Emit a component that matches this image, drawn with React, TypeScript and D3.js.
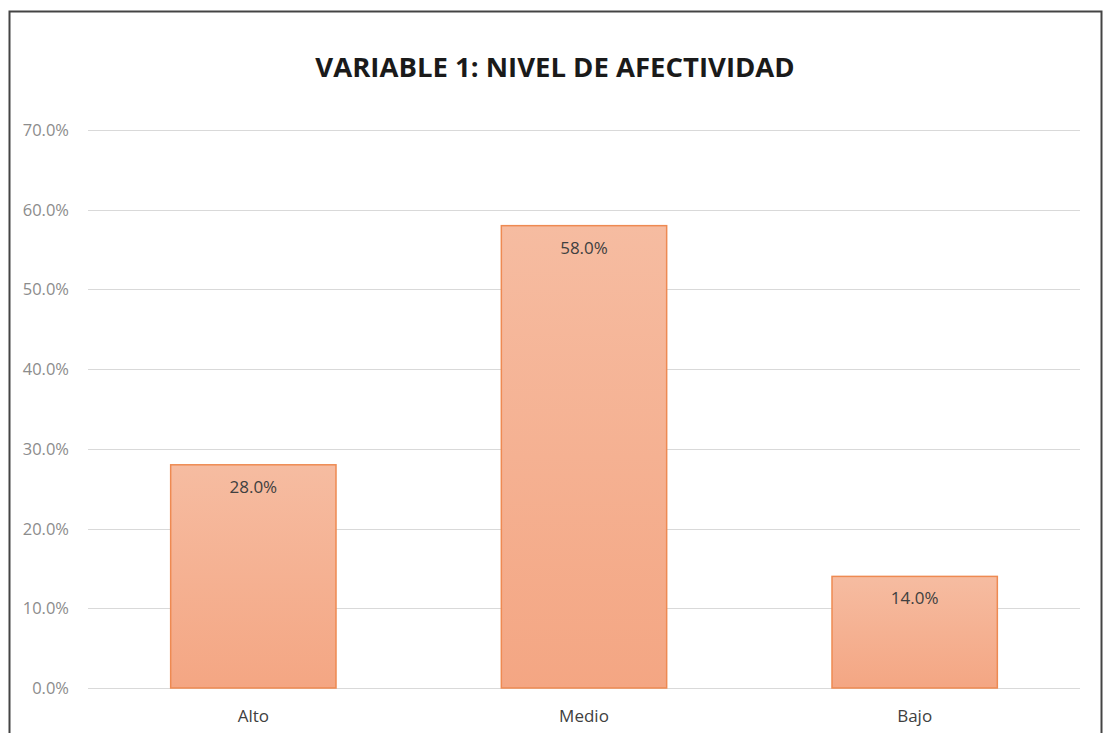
import React, { useEffect, useRef } from "react";
import * as d3 from "d3";

const categories = ["Alto", "Medio", "Bajo"];
const values = [0.28, 0.58, 0.14];
const yTicks = [0, 0.1, 0.2, 0.3, 0.4, 0.5, 0.6, 0.7];
const title = "VARIABLE 1: NIVEL DE AFECTIVIDAD";

const W = 1105;
const H = 733;

export default function App() {
  const svgRef = useRef<SVGSVGElement>(null);

  useEffect(() => {
    const svg = d3.select(svgRef.current);
    svg.selectAll("*").remove();
    const margin = { left: 88, right: 25, top: 130, bottom: 45 };
    const font = "'Open Sans', 'Liberation Sans', sans-serif";

    const defs = svg.append("defs");
    const grad = defs
      .append("linearGradient")
      .attr("id", "barGrad")
      .attr("x1", 0)
      .attr("y1", 0)
      .attr("x2", 0)
      .attr("y2", 1);
    grad.append("stop").attr("offset", "0%").attr("stop-color", "#f6bca1");
    grad.append("stop").attr("offset", "100%").attr("stop-color", "#f4a683");

    svg.append("rect").attr("width", W).attr("height", H).attr("fill", "#fff");
    // chart border (bottom edge cut off)
    svg
      .append("path")
      .attr("d", `M9.5,${H} V11.5 H1101.5 V${H}`)
      .attr("fill", "none")
      .attr("stroke", "#444")
      .attr("stroke-width", 2);

    const x = d3
      .scaleBand()
      .domain(categories)
      .range([margin.left, W - margin.right])
      .paddingInner(0.5)
      .paddingOuter(0.25);
    const y = d3
      .scaleLinear()
      .domain([0, 0.7])
      .range([H - margin.bottom, margin.top]);

    // gridlines
    svg
      .append("g")
      .selectAll("line")
      .data(yTicks)
      .enter()
      .append("line")
      .attr("x1", margin.left)
      .attr("x2", W - margin.right)
      .attr("y1", (d) => Math.round(y(d)) + 0.5)
      .attr("y2", (d) => Math.round(y(d)) + 0.5)
      .attr("stroke", "#d9d9d9")
      .attr("stroke-width", 1);

    // y labels
    svg
      .append("g")
      .selectAll("text")
      .data(yTicks)
      .enter()
      .append("text")
      .attr("x", 69)
      .attr("y", (d) => y(d) + 6)
      .attr("text-anchor", "end")
      .attr("fill", "#8c8c8c")
      .style("font-family", font)
      .style("font-size", "16.5px")
      .text((d) => d3.format(".1%")(d));

    // bars
    svg
      .append("g")
      .selectAll("rect")
      .data(values)
      .enter()
      .append("rect")
      .attr("x", (d, i) => x(categories[i])!)
      .attr("y", (d) => y(d))
      .attr("width", x.bandwidth())
      .attr("height", (d) => y(0) - y(d))
      .attr("fill", "url(#barGrad)")
      .attr("stroke", "#ee8a52")
      .attr("stroke-width", 1.5);

    // value labels
    svg
      .append("g")
      .selectAll("text")
      .data(values)
      .enter()
      .append("text")
      .attr("x", (d, i) => x(categories[i])! + x.bandwidth() / 2)
      .attr("y", (d) => y(d) + 28)
      .attr("text-anchor", "middle")
      .attr("fill", "#404040")
      .style("font-family", font)
      .style("font-size", "17px")
      .text((d) => d3.format(".1%")(d));

    // category labels
    svg
      .append("g")
      .selectAll("text")
      .data(categories)
      .enter()
      .append("text")
      .attr("x", (d) => x(d)! + x.bandwidth() / 2)
      .attr("y", 722)
      .attr("text-anchor", "middle")
      .attr("fill", "#404040")
      .style("font-family", font)
      .style("font-size", "17px")
      .text((d) => d);

    svg
      .append("text")
      .attr("x", 555)
      .attr("y", 77)
      .attr("text-anchor", "middle")
      .attr("fill", "#1a1a1a")
      .style("font-family", font)
      .style("font-weight", "700")
      .style("font-size", "27.5px")
      .text(title);
  }, []);

  return (
    <div style={{ position: "absolute", left: 0, top: 0 }}>
      <svg ref={svgRef} width={W} height={H} style={{ display: "block" }} />
    </div>
  );
}
